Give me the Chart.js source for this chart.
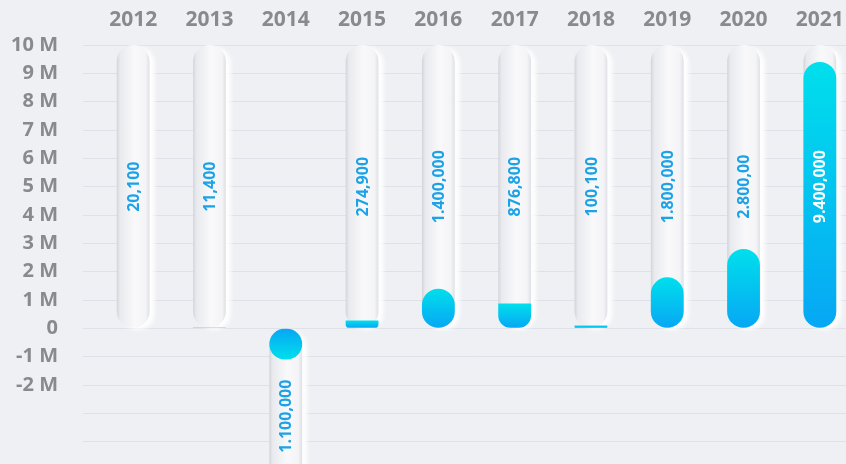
<!DOCTYPE html>
<html>
<head>
<meta charset="utf-8">
<script src="https://cdn.jsdelivr.net/npm/chart.js@4"></script>
<style>
  html, body { margin: 0; padding: 0; overflow: hidden; background: #eff0f4; }
  #myChart { position: absolute; left: 0; top: 0; }
</style>
</head>
<body>
<canvas id="myChart" width="870" height="470"></canvas>
<script>
const years = ['2012', '2013', '2014', '2015', '2016', '2017', '2018', '2019', '2020', '2021'];
const values = [20100, 11400, -1100000, 274900, 1400000, 876800, 100100, 1800000, 2800000, 9400000];
const valueLabels = ['20,100', '11,400', '1.100,000', '274,900', '1.400,000', '876,800', '100,100', '1.800,000', '2.800,00', '9.400,000'];
// the grey "tube" behind every bar
const trackValues = [10000000, 10000000, -6200000, 10000000, 10000000, 10000000, 10000000, 10000000, 10000000, 10000000];

const ctx = document.getElementById('myChart');

// gradients need the bar positions, so they are set just before drawing
const tubeStyle = {
    id: 'tubeStyle',
    beforeDatasetDraw(chart, args) {
        const c = chart.ctx;
        const meta = args.meta;
        if (args.index === 1) {
            meta.data.forEach((el) => {
                const g = c.createLinearGradient(el.x - el.width / 2, 0, el.x + el.width / 2, 0);
                g.addColorStop(0, '#d3d4db');
                g.addColorStop(0.1, '#e9eaee');
                g.addColorStop(0.55, '#f9f9fb');
                g.addColorStop(0.88, '#f4f4f7');
                g.addColorStop(1, '#dfe0e6');
                el.options.backgroundColor = g;
            });
            c.save();
            c.shadowColor = 'rgba(255,255,255,0.95)';
            c.shadowBlur = 4;
            c.shadowOffsetX = 5;
            c.shadowOffsetY = 2;
        } else {
            meta.data.forEach((el) => {
                const g = c.createLinearGradient(0, el.y, 0, el.base);
                g.addColorStop(0, '#00dfec');
                g.addColorStop(1, '#07a7f4');
                el.options.backgroundColor = g;
            });
        }
    },
    afterDatasetDraw(chart, args) {
        if (args.index === 1) chart.ctx.restore();
    },
    afterDatasetsDraw(chart) {
        const c = chart.ctx;
        const y = chart.scales.y;
        const tubes = chart.getDatasetMeta(1).data;
        c.save();
        c.font = 'bold 16px "Open Sans"';
        c.textAlign = 'center';
        c.textBaseline = 'middle';
        tubes.forEach((el, i) => {
            const mid = (y.getPixelForValue(trackValues[i]) + y.getPixelForValue(0)) / 2;
            c.save();
            c.translate(el.x, mid);
            c.rotate(-Math.PI / 2);
            c.fillStyle = i === 9 ? '#ffffff' : '#1ca2e7';
            c.fillText(valueLabels[i], 0, 1);
            c.restore();
        });
        c.restore();
    }
};

new Chart(ctx, {
    type: 'bar',
    data: {
        labels: years,
        datasets: [{
            label: 'valor',
            data: values,
            order: 1,
            grouped: false,
            borderSkipped: false,
            backgroundColor: () => '#07a7f4',
            borderRadius: (c) => {
                const v = Math.abs(values[c.dataIndex]);
                if (v >= 1000000) return 17;
                return { topLeft: 0, topRight: 0, bottomLeft: 17, bottomRight: 17 };
            },
            categoryPercentage: 1,
            barPercentage: 0.43
        }, {
            label: 'tubo',
            data: trackValues,
            order: 2,
            grouped: false,
            borderSkipped: false,
            backgroundColor: () => '#f4f4f7',
            borderRadius: 17,
            categoryPercentage: 1,
            barPercentage: 0.43
        }]
    },
    options: {
        responsive: false,
        animation: false,
        layout: { padding: { left: 0, right: 12, top: 0, bottom: 0 } },
        plugins: {
            legend: { display: false },
            tooltip: { enabled: false }
        },
        scales: {
            x: {
                position: 'top',
                afterFit: (s) => { s.height = 45; },
                grid: { display: false, drawTicks: false },
                border: { display: false },
                ticks: {
                    color: '#8a8a8c',
                    padding: 12,
                    font: { family: 'Open Sans', size: 21, weight: 'bold' }
                }
            },
            y: {
                min: -5000000,
                max: 10000000,
                afterFit: (s) => {
                    s.width = 95;
                    s.paddingTop = 0;
                    s.paddingBottom = 0;
                },
                grid: {
                    color: '#dfe1e8',
                    tickColor: '#dfe1e8',
                    tickLength: 12
                },
                border: { display: false },
                ticks: {
                    stepSize: 1000000,
                    autoSkip: false,
                    color: '#8a8a8c',
                    padding: 25,
                    font: { family: 'Open Sans', size: 20, weight: 'bold' },
                    callback: (v) => {
                        if (v === 0) return '0';
                        if (v < -2000000) return '';
                        return (v / 1000000) + ' M';
                    }
                }
            }
        }
    },
    plugins: [tubeStyle]
});
</script>
</body>
</html>
